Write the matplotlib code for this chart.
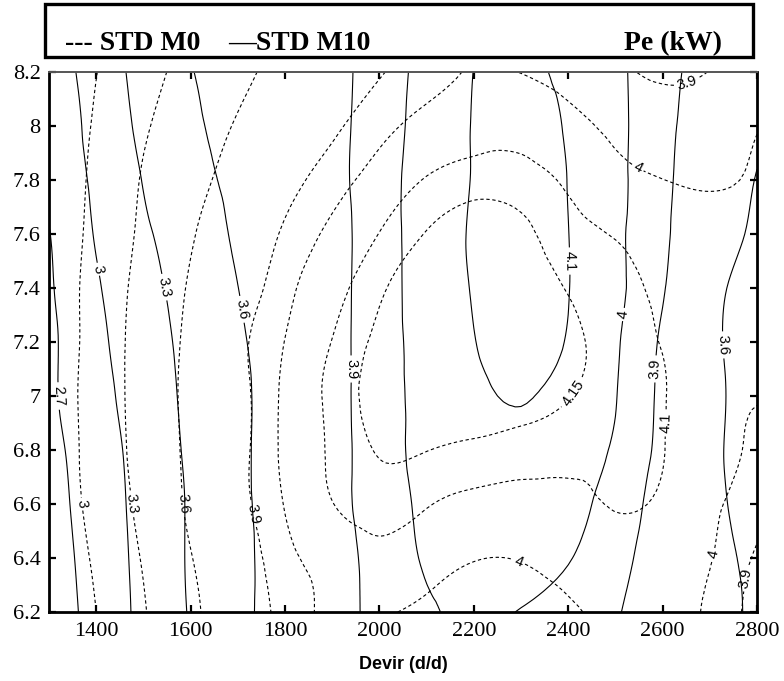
import numpy as np
import matplotlib
matplotlib.use("Agg")
import matplotlib.pyplot as plt
import matplotlib.tri as mtri
from matplotlib.patches import Rectangle

# engine speed (d/d) and second factor, grid on which Pe (kW) was read
devir = [1300, 1400, 1500, 1600, 1700, 1800, 1900, 2000,
         2100, 2200, 2300, 2400, 2500, 2600, 2700, 2800]
avans = [6.2, 6.4, 6.6, 6.8, 7.0, 7.2, 7.4, 7.6, 7.8, 8.0, 8.2]

# STD M0 (dashed), one row per avans value
pe_m0 = [
    [2.72, 3.00, 3.28, 3.55, 3.77, 3.94, 4.02, 4.01, 3.985, 3.97, 3.97, 3.99, 4.015, 4.02, 3.985, 3.85],
    [2.75, 3.04, 3.32, 3.59, 3.80, 3.97, 4.04, 4.075, 4.04, 4.004, 4.004, 4.03, 4.05, 4.04, 4.005, 3.88],
    [2.80, 3.085, 3.37, 3.64, 3.85, 4.005, 4.098, 4.13, 4.105, 4.08, 4.07, 4.08, 4.105, 4.085, 4.02, 3.95],
    [2.80, 3.11, 3.40, 3.65, 3.85, 4.02, 4.11, 4.153, 4.151, 4.14, 4.13, 4.12, 4.11, 4.102, 4.04, 3.985],
    [2.81, 3.12, 3.41, 3.66, 3.85, 4.02, 4.115, 4.17, 4.18, 4.18, 4.17, 4.152, 4.125, 4.104, 4.04, 4.005],
    [2.80, 3.11, 3.41, 3.65, 3.86, 4.002, 4.102, 4.16, 4.18, 4.19, 4.18, 4.16, 4.128, 4.098, 4.07, 4.04],
    [2.80, 3.105, 3.39, 3.62, 3.80, 3.97, 4.07, 4.143, 4.17, 4.18, 4.17, 4.148, 4.12, 4.09, 4.07, 4.04],
    [2.79, 3.08, 3.35, 3.58, 3.75, 3.92, 4.02, 4.102, 4.152, 4.17, 4.16, 4.126, 4.095, 4.06, 4.04, 4.03],
    [2.79, 3.06, 3.32, 3.52, 3.69, 3.84, 3.96, 4.04, 4.105, 4.13, 4.125, 4.087, 4.03, 4.001, 3.99, 4.01],
    [2.78, 3.03, 3.27, 3.45, 3.62, 3.74, 3.87, 3.97, 4.03, 4.06, 4.07, 4.03, 3.98, 3.95, 3.95, 3.995],
    [2.79, 2.995, 3.21, 3.38, 3.54, 3.67, 3.78, 3.89, 3.955, 4.01, 3.998, 3.96, 3.92, 3.88, 3.902, 3.93],
]

# STD M10 (solid)
pe_m10 = [
    [2.54, 2.80, 3.07, 3.32, 3.54, 3.70, 3.84, 3.93, 3.98, 4.03, 3.995, 3.96, 3.91, 3.81, 3.69, 3.56],
    [2.56, 2.82, 3.08, 3.33, 3.54, 3.70, 3.84, 3.94, 4.01, 4.045, 4.04, 4.005, 3.935, 3.83, 3.685, 3.54],
    [2.59, 2.84, 3.09, 3.33, 3.55, 3.70, 3.85, 3.95, 4.02, 4.06, 4.06, 4.03, 3.96, 3.845, 3.67, 3.49],
    [2.62, 2.86, 3.11, 3.345, 3.55, 3.71, 3.85, 3.955, 4.03, 4.07, 4.08, 4.04, 3.99, 3.86, 3.66, 3.47],
    [2.65, 2.90, 3.14, 3.36, 3.55, 3.71, 3.85, 3.96, 4.03, 4.085, 4.104, 4.07, 4.003, 3.87, 3.67, 3.47],
    [2.64, 2.93, 3.17, 3.38, 3.57, 3.71, 3.85, 3.96, 4.035, 4.098, 4.12, 4.095, 4.01, 3.88, 3.66, 3.46],
    [2.665, 2.97, 3.21, 3.41, 3.598, 3.725, 3.85, 3.96, 4.04, 4.105, 4.13, 4.102, 4.02, 3.91, 3.69, 3.46],
    [2.69, 3.02, 3.26, 3.455, 3.63, 3.74, 3.85, 3.96, 4.04, 4.11, 4.135, 4.101, 4.02, 3.92, 3.76, 3.54],
    [2.78, 3.05, 3.31, 3.515, 3.65, 3.75, 3.86, 3.96, 4.04, 4.105, 4.14, 4.098, 4.02, 3.93, 3.77, 3.59],
    [2.79, 3.09, 3.36, 3.56, 3.67, 3.76, 3.86, 3.955, 4.035, 4.105, 4.14, 4.09, 4.02, 3.935, 3.80, 3.65],
    [2.82, 3.13, 3.39, 3.59, 3.68, 3.77, 3.86, 3.95, 4.03, 4.101, 4.125, 4.07, 4.015, 3.94, 3.835, 3.72],
]

levels_m0 = [3.0, 3.3, 3.6, 3.9, 4.0, 4.1, 4.15]
levels_m10 = [2.7, 3.0, 3.3, 3.6, 3.9, 4.0, 4.1]

# where the contour values are written
labels_m0 = [(1370, 6.6), (1472, 6.6), (1573, 6.6), (1722, 6.56), (2404, 7.02),
             (2616, 6.9), (2552, 7.86), (2652, 8.16), (2292, 6.37), (2715, 6.41),
             (2764, 6.33)]
labels_m10 = [(1319, 7.0), (1406, 7.47), (1535, 7.4), (1705, 7.32), (1936, 7.1),
              (2408, 7.5), (2525, 7.3), (2588, 7.1), (2738, 7.19)]


def smooth_field(values):
    # work on unit grid spacing, refine with cubic interpolation, map back
    nx, ny = len(devir), len(avans)
    gx, gy = np.meshgrid(np.arange(nx, dtype=float), np.arange(ny, dtype=float))
    tris = []
    for j in range(ny - 1):
        for i in range(nx - 1):
            a = j * nx + i
            tris.append([a, a + 1, a + nx + 1])
            tris.append([a, a + nx + 1, a + nx])
    tri = mtri.Triangulation(gx.ravel(), gy.ravel(), np.array(tris))
    z = np.asarray(values, float).ravel()
    interp = mtri.CubicTriInterpolator(tri, z, kind="min_E")
    tri_f, z_f = mtri.UniformTriRefiner(tri).refine_field(z, triinterpolator=interp, subdiv=3)
    xs = np.interp(tri_f.x, np.arange(nx), devir)
    ys = np.interp(tri_f.y, np.arange(ny), avans)
    return mtri.Triangulation(xs, ys, tri_f.triangles), z_f


fig = plt.figure(figsize=(7.84, 6.81), dpi=100)
ax = fig.add_axes([0.0625, 0.1013, 0.9031, 0.793])

t0, z0 = smooth_field(pe_m0)
cs0 = ax.tricontour(t0, z0, levels=levels_m0, colors="k", linewidths=0.8,
                    linestyles=[(0, (3.0, 2.4))])
t10, z10 = smooth_field(pe_m10)
cs10 = ax.tricontour(t10, z10, levels=levels_m10, colors="k", linewidths=0.8,
                     linestyles="solid")

lab_font = dict(fontsize=10.5, fmt="%g", inline=True, inline_spacing=2)
for t in ax.clabel(cs0, manual=labels_m0, **lab_font):
    t.set_fontfamily("Liberation Sans")
for t in ax.clabel(cs10, manual=labels_m10, **lab_font):
    t.set_fontfamily("Liberation Sans")

ax.set_xlim(1300, 2800)
ax.set_ylim(6.2, 8.2)
ax.set_xticks(range(1400, 2801, 200))
ax.set_yticks(avans)
ax.yaxis.set_major_formatter(plt.FormatStrFormatter("%g"))
ax.tick_params(direction="in", length=5, width=1.6, top=True, right=True,
               labelsize=16)
ax.tick_params(axis="x", pad=7)
ax.tick_params(axis="y", pad=6)
for lab in ax.get_xticklabels() + ax.get_yticklabels():
    lab.set_fontfamily("Liberation Serif")
for side in ["left", "bottom", "right"]:
    ax.spines[side].set_linewidth(2.0)
ax.spines["top"].set_linewidth(1.4)
ax.spines["top"].set_color("#555555")

ax.set_xlabel("Devir (d/d)", fontsize=13, fontweight="bold",
              fontfamily="Liberation Sans", labelpad=11)

# header box with the line key and the quantity
fig.patches.append(Rectangle((0.0574, 0.9163), 0.903, 0.0778, transform=fig.transFigure,
                             fill=False, edgecolor="k", linewidth=2.4))
head = dict(fontsize=20, fontweight="bold", fontfamily="Liberation Serif",
            va="baseline")
fig.text(0.083, 0.927, "--- STD M0", ha="left", **head)
fig.text(0.291, 0.927, "\u2014STD M10", ha="left", **head)
fig.text(0.921, 0.927, "Pe (kW)", ha="right", **head)

fig.savefig("out.png", dpi=100, facecolor="white")
